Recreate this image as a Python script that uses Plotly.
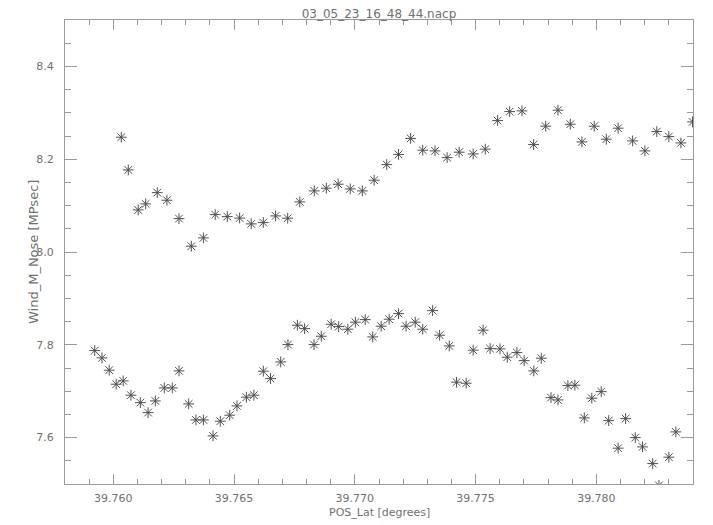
import plotly.graph_objects as go

# Lower branch (POS_Lat, Wind_M_Nose)
lower_lat = [39.75923, 39.75953, 39.75983, 39.76012, 39.76041, 39.76073, 39.76112, 39.76144,
             39.76174, 39.76211, 39.76244, 39.76272, 39.76312, 39.76342, 39.76373, 39.76413,
             39.76443, 39.76482, 39.76512, 39.76551, 39.76582, 39.76621, 39.76651, 39.76693,
             39.76723, 39.76762, 39.76792, 39.76831, 39.76861, 39.76902, 39.76933, 39.76971,
             39.77002, 39.77043, 39.77074, 39.77109, 39.77142, 39.77181, 39.77212, 39.77250,
             39.77281, 39.77322, 39.77351, 39.77391, 39.77421, 39.77461, 39.77490, 39.77531,
             39.77560, 39.77601, 39.77631, 39.77671, 39.77701, 39.77741, 39.77772, 39.77812,
             39.77841, 39.77882, 39.77911, 39.77950, 39.77981, 39.78020, 39.78051, 39.78090,
             39.78121, 39.78161, 39.78191, 39.78233, 39.78259, 39.78300, 39.78329]
lower_wind = [7.7875, 7.7718, 7.7453, 7.7151, 7.7222, 7.6914, 7.6754, 7.6539,
              7.6791, 7.7071, 7.7071, 7.7438, 7.6726, 7.6381, 7.6381, 7.6037,
              7.6353, 7.6483, 7.6683, 7.6871, 7.6914, 7.7431, 7.7272, 7.7631,
              7.8004, 7.8422, 7.8349, 7.8004, 7.8185, 7.8444, 7.8392, 7.8336,
              7.8487, 7.8543, 7.8170, 7.8401, 7.8552, 7.8672, 7.8401, 7.8487,
              7.8336, 7.8737, 7.8207, 7.7976, 7.7194, 7.7172, 7.7884, 7.8315,
              7.7918, 7.7912, 7.7733, 7.7832, 7.7659, 7.7437, 7.7711, 7.6862,
              7.6812, 7.7121, 7.7129, 7.6425, 7.6849, 7.6991, 7.6366, 7.5772,
              7.6409, 7.6000, 7.5800, 7.5440, 7.4970, 7.5578, 7.6123]

# Upper branch
upper_lat = [39.76033, 39.76062, 39.76103, 39.76134, 39.76182, 39.76222, 39.76272, 39.76323,
             39.76373, 39.76422, 39.76472, 39.76523, 39.76571, 39.76621, 39.76672, 39.76722,
             39.76772, 39.76832, 39.76882, 39.76931, 39.76981, 39.77031, 39.77080, 39.77132,
             39.77181, 39.77231, 39.77281, 39.77332, 39.77382, 39.77432, 39.77490, 39.77540,
             39.77591, 39.77641, 39.77692, 39.77740, 39.77790, 39.77841, 39.77892, 39.77940,
             39.77991, 39.78041, 39.78090, 39.78150, 39.78201, 39.78250, 39.78300, 39.78350,
             39.78398]
upper_wind = [8.2474, 8.1769, 8.0907, 8.1037, 8.1280, 8.1116, 8.0720, 8.0125,
              8.0304, 8.0806, 8.0763, 8.0731, 8.0606, 8.0634, 8.0778, 8.0728,
              8.1080, 8.1317, 8.1375, 8.1461, 8.1360, 8.1317, 8.1547, 8.1884,
              8.2103, 8.2448, 8.2194, 8.2179, 8.2034, 8.2151, 8.2114, 8.2216,
              8.2832, 8.3026, 8.3041, 8.2315, 8.2711, 8.3056, 8.2754, 8.2373,
              8.2711, 8.2431, 8.2668, 8.2394, 8.2179, 8.2595, 8.2487, 8.2351,
              8.2804]

title_text = "03_05_23_16_48_44.nacp"
x_label = "POS_Lat [degrees]"
y_label = "Wind_M_Nose [MPsec]"

LINE = "#9a9a9a"
TEXT = "#707070"
FONT = "DejaVu Sans"

fig = go.Figure()
marker = dict(symbol="asterisk-open", size=9, color="#505050",
              line=dict(width=1, color="#505050"))
fig.add_trace(go.Scatter(x=lower_lat, y=lower_wind, mode="markers", marker=marker,
                         showlegend=False, hoverinfo="x+y"))
fig.add_trace(go.Scatter(x=upper_lat, y=upper_wind, mode="markers", marker=marker,
                         showlegend=False, hoverinfo="x+y"))

common = dict(showline=True, linecolor=LINE, linewidth=1, mirror="ticks",
              ticks="inside", tickcolor=LINE, tickwidth=1, showgrid=False,
              zeroline=False, tickfont=dict(family=FONT, size=11, color=TEXT))

fig.update_xaxes(range=[39.758, 39.784], tick0=39.760, dtick=0.005, tickformat=".3f",
                 ticklen=10, ticklabelstandoff=4,
                 minor=dict(ticks="inside", dtick=0.001, tick0=39.758, ticklen=5,
                            tickcolor=LINE, tickwidth=1, showgrid=False),
                 **common)
fig.update_yaxes(range=[7.5, 8.5], tick0=7.6, dtick=0.2, tickformat=".1f",
                 ticklen=12, ticklabelstandoff=8,
                 minor=dict(ticks="inside", dtick=0.05, tick0=7.5, ticklen=6,
                            tickcolor=LINE, tickwidth=1, showgrid=False),
                 **common)

# The page body adds an 8px offset, so the figure is sized to fill the rest of the window
fig.update_layout(
    width=705, height=517,
    margin=dict(l=57, r=20, t=12, b=41),
    paper_bgcolor="white", plot_bgcolor="white",
    title=dict(text=title_text, x=(379 - 8) / 705, xanchor="center", xref="container",
               y=1 - 1.5 / 517, yref="container", yanchor="top", pad=dict(t=0, b=0),
               font=dict(family=FONT, size=12, color=TEXT)),
    annotations=[
        dict(text=x_label, xref="paper", yref="paper", x=0.5, y=-20 / 464,
             xanchor="center", yanchor="top", showarrow=False,
             font=dict(family=FONT, size=11, color=TEXT)),
        dict(text=y_label, xref="paper", yref="paper", x=-32 / 628, y=0.5,
             xanchor="center", yanchor="middle", textangle=-90, showarrow=False,
             font=dict(family=FONT, size=13, color=TEXT)),
    ],
)

fig.write_html("out.html")
